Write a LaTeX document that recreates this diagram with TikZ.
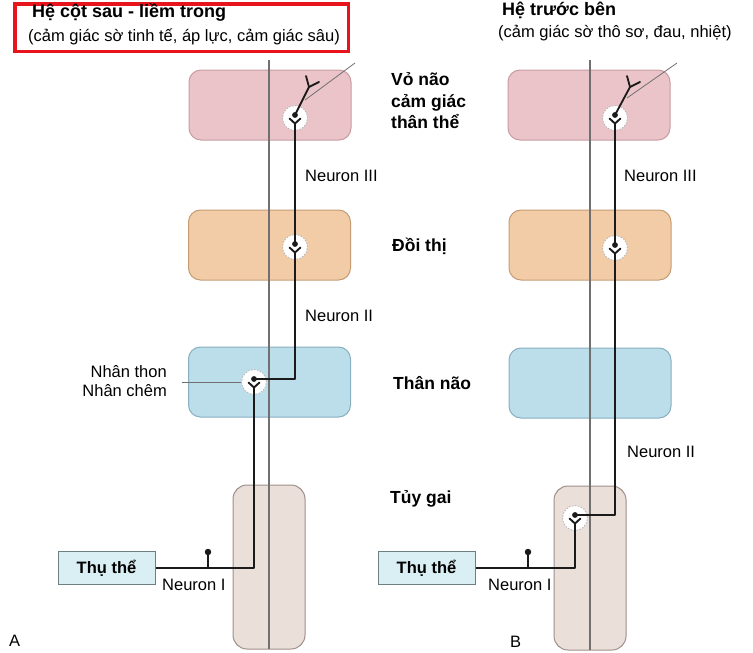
\documentclass[tikz,border=0pt]{standalone}
\usepackage{fontspec}
\setmainfont{Liberation Sans}
\usetikzlibrary{calc}
\definecolor{pinkF}{HTML}{EBC4C9}
\definecolor{pinkD}{HTML}{C89CA2}
\definecolor{orgF}{HTML}{F2CCA6}
\definecolor{orgD}{HTML}{C59C74}
\definecolor{bluF}{HTML}{BCDDEA}
\definecolor{bluD}{HTML}{88B0C1}
\definecolor{spiF}{HTML}{EBDFDA}
\definecolor{spiD}{HTML}{9F8F89}
\definecolor{recF}{HTML}{D9EFF3}
\definecolor{recD}{HTML}{6E7F86}
\definecolor{axis}{HTML}{707070}
\definecolor{nrn}{HTML}{1A1A1A}
\definecolor{tred}{HTML}{E8141B}
\tikzset{
  region/.style={draw, rounded corners=12pt, line width=1pt, minimum width=162pt, minimum height=70pt, inner sep=0pt},
  cord/.style={draw=spiD, fill=spiF, rounded corners=14pt, line width=1pt, minimum width=72pt, minimum height=164pt, inner sep=0pt},
  recbox/.style={draw=recD, fill=recF, line width=1pt, minimum width=97pt, minimum height=33pt, inner sep=0pt, font=\fontsize{16.5}{20}\selectfont\bfseries},
  axisline/.style={draw=axis, line width=1.2pt},
  neuron/.style={draw=nrn, line width=2pt, line join=round},
  thin/.style={draw=axis, line width=0.8pt},
  lab/.style={inner sep=0pt, font=\fontsize{16.5}{19.5}\selectfont},
  blab/.style={inner sep=0pt, font=\fontsize{17.5}{21.5}\selectfont\bfseries},
  tlab/.style={inner sep=0pt, font=\fontsize{18}{22}\selectfont\bfseries},
  ball/.style={circle, fill=nrn, inner sep=0pt, minimum size=6.5pt},
  soma/.pic={
    \node[circle, minimum size=25pt, inner sep=0pt, fill=white, draw=gray!55, line width=0.9pt, dash pattern=on 1.6pt off 1.4pt] (-c) at (0,0) {};
    \coordinate (-dot) at (0,-3);
    \coordinate (-v) at (0,5.5);
    \fill[nrn] (0,-3) circle (2.9pt);
    \draw[nrn, line width=1.9pt, line cap=round, line join=round] (-5.5,0.5) -- (0,5.5) -- (5.5,0.5);
  }
}
\begin{document}
\begin{tikzpicture}[x=1pt,y=-1pt]
\useasboundingbox (0,0) rectangle (753,653);
\fill[white] (0,0) rectangle (753,653);

% titles
\node[draw=tred, line width=3.5pt, minimum width=333.5pt, minimum height=47.5pt, inner sep=0pt] (tbox) at (181.5,27.5) {};
\node[tlab, anchor=west] (tA) at (32,12) {Hệ cột sau - liềm trong};
\node[lab, anchor=west] (sA) at (28,37) {(cảm giác sờ tinh tế, áp lực, cảm giác sâu)};
\node[tlab, anchor=west] (tB) at (502,10) {Hệ trước bên};
\node[lab, anchor=west] (sBt) at (498,33) {(cảm giác sờ thô sơ, đau, nhiệt)};

% regions A
\node[region, fill=pinkF, draw=pinkD] (pA) at (270,105) {};
\node[region, fill=orgF, draw=orgD] (oA) at (269.5,245) {};
\node[region, fill=bluF, draw=bluD] (bA) at (269.5,382) {};
\node[cord] (cA) at (269,567) {};
% regions B
\node[region, fill=pinkF, draw=pinkD] (pB) at (589,105) {};
\node[region, fill=orgF, draw=orgD] (oB) at (590,245) {};
\node[region, fill=bluF, draw=bluD] (bB) at (590,383) {};
\node[cord] (cB) at (590,568) {};

% receptors
\node[recbox] (rA) at (106.5,568) {Thụ thể};
\node[recbox] (rB) at (426.5,568) {Thụ thể};

% midlines
\coordinate (mA1) at (269,60);
\coordinate (mA2) at (269,649);
\coordinate (mB1) at (590,60);
\coordinate (mB2) at (590,650);
\draw[axisline] (mA1) -- (mA2);
\draw[axisline] (mB1) -- (mB2);

% diagonal guide lines
\coordinate (dA0) at (305,100);
\coordinate (dA1) at (355,63);
\coordinate (dB0) at (627,98);
\coordinate (dB1) at (677,63);
\draw[thin] (dA0) -- (dA1);
\draw[thin] (dB0) -- (dB1);

% somas
\pic (spA) at (295,118) {soma};
\pic (soA) at (295,247) {soma};
\pic (sbA) at (254,382) {soma};
\pic (spB) at (615,118) {soma};
\pic (soB) at (615,248) {soma};
\pic (scB) at (575,518) {soma};

% dendrites in cortex
\coordinate (yA) at (309,87);
\coordinate (yA1) at (306,76);
\coordinate (yA2) at (319,82);
\coordinate (yB) at (630,87);
\coordinate (yB1) at (627,76);
\coordinate (yB2) at (640,82);
\draw[neuron, line width=1.8pt, line cap=round] (spA-dot) -- (yA) -- (yA1);
\draw[neuron, line width=1.8pt, line cap=round] (yA) -- (yA2);
\draw[neuron, line width=1.8pt, line cap=round] (spB-dot) -- (yB) -- (yB1);
\draw[neuron, line width=1.8pt, line cap=round] (yB) -- (yB2);

% pathway A
\draw[neuron] (soA-dot) -- (spA-v);
\draw[neuron] (sbA-dot) -| (soA-v);
\draw[neuron] (rA.east) -| (sbA-v);
\coordinate (kA) at (208,568);
\node[ball] (kAb) at (208,552) {};
\draw[neuron] (kA) -- (kAb);

% pathway B
\draw[neuron] (soB-dot) -- (spB-v);
\draw[neuron] (scB-dot) -| (soB-v);
\draw[neuron] (rB.east) -| (scB-v);
\coordinate (kB) at (528,568);
\node[ball] (kBb) at (528,552) {};
\draw[neuron] (kB) -- (kBb);

% nucleus pointer
\node[lab, anchor=east, align=right] (nuc) at (167,381) {Nhân thon\\Nhân chêm};
\coordinate (nptr) at (182,382);
\draw[thin] (nptr) -- (sbA-c.west);

% level labels
\node[blab, anchor=west, align=left] (lv1) at (391,101) {Vỏ não\\cảm giác\\thân thể};
\node[blab, anchor=west] (lv2) at (392,246) {Đồi thị};
\node[blab, anchor=west] (lv3) at (393,383) {Thân não};
\node[blab, anchor=west] (lv4) at (390,499) {Tủy gai};

% neuron labels
\node[lab, anchor=west] (n3A) at (305,176) {Neuron III};
\node[lab, anchor=west] (n2A) at (305,316) {Neuron II};
\node[lab, anchor=west] (n1A) at (162,585) {Neuron I};
\node[lab, anchor=west] (n3B) at (624,176) {Neuron III};
\node[lab, anchor=west] (n2B) at (627,452) {Neuron II};
\node[lab, anchor=west] (n1B) at (488,585) {Neuron I};

\node[lab, anchor=west] (lA) at (9,641) {A};
\node[lab, anchor=west] (lB) at (510,642) {B};
\end{tikzpicture}
\end{document}
